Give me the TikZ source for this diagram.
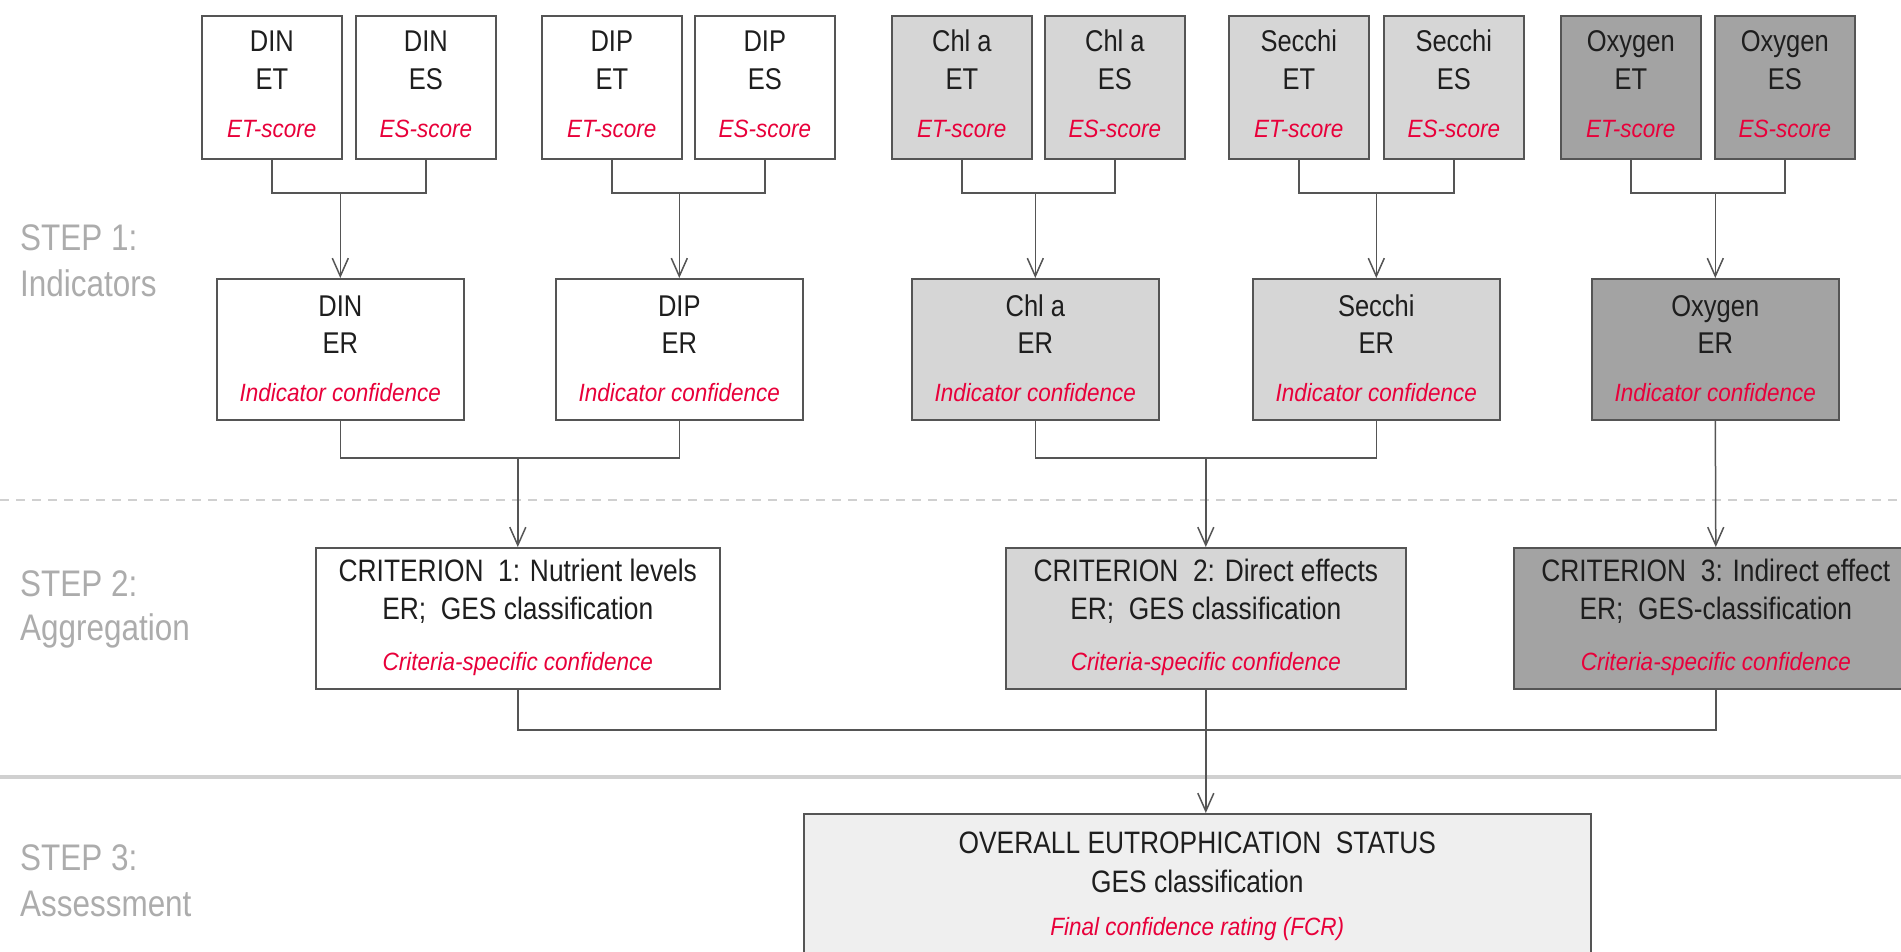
\documentclass[tikz,border=0pt]{standalone}
\usepackage{fontspec}
\setmainfont{Liberation Sans}[FakeStretch=0.85]
\newfontfamily\redf{Liberation Sans}[FakeStretch=0.9]
\usetikzlibrary{arrows.meta,calc}
\definecolor{linec}{HTML}{555555}
\definecolor{redt}{HTML}{E8003A}
\definecolor{stepc}{HTML}{ACACAC}
\definecolor{lgray}{HTML}{D6D6D6}
\definecolor{dgray}{HTML}{A3A3A3}
\definecolor{vlgray}{HTML}{EFEFEF}
\definecolor{txtc}{HTML}{1E1E1E}
\definecolor{sepc}{HTML}{D0D0D0}
\tikzset{
  box/.style={draw=linec, line width=1.6pt, inner sep=0pt, rectangle},
  maintxt/.style={inner sep=0pt, text=txtc, font=\fontsize{30}{36}\selectfont},
  crittxt/.style={inner sep=0pt, text=txtc, font=\fontsize{31}{37}\selectfont},
  redtxt/.style={inner sep=0pt, text=redt, font=\redf\itshape\fontsize{25}{30}\selectfont},
  steptxt/.style={inner sep=0pt, text=stepc, font=\fontsize{37}{44}\selectfont, anchor=base west},
  conn/.style={draw=linec, line width=1.5pt},
  arr/.style={conn, -{Straight Barb[length=18pt,width=16pt]}},
}
\newcommand{\topbox}[6]{%
  \node[box,fill=#3,minimum width=140pt,minimum height=143pt,anchor=north west] (#1) at (#2,15) {};
  \node[maintxt,anchor=base] (#1-a) at ([yshift=-36pt]#1.north) {#4};
  \node[maintxt,anchor=base] (#1-b) at ([yshift=-74pt]#1.north) {#5};
  \node[redtxt,anchor=base] (#1-c) at ([yshift=-122.5pt]#1.north) {#6};
}
\newcommand{\erbox}[5]{%
  \node[box,fill=#3,minimum width=247pt,minimum height=141pt,anchor=north west] (#1) at (#2,278) {};
  \node[maintxt,anchor=base] (#1-a) at ([yshift=-38pt]#1.north) {#4};
  \node[maintxt,anchor=base] (#1-b) at ([yshift=-75pt]#1.north) {#5};
  \node[redtxt,anchor=base] (#1-c) at ([yshift=-123pt]#1.north) {Indicator confidence};
}
\newcommand{\critbox}[6]{%
  \node[box,fill=#4,minimum width=#3pt,minimum height=141pt,anchor=north west] (#1) at (#2,547) {};
  \node[crittxt,anchor=base] (#1-a) at ([yshift=-34pt]#1.north) {#5};
  \node[crittxt,anchor=base] (#1-b) at ([yshift=-72pt]#1.north) {#6};
  \node[redtxt,anchor=base] (#1-c) at ([yshift=-123pt]#1.north) {Criteria-specific confidence};
}
\begin{document}
\begin{tikzpicture}[x=1pt,y=-1pt]
\useasboundingbox (0,0) rectangle (1901,951);
\clip (0,0) rectangle (1901,951);
\fill[white] (0,0) rectangle (1901,951);

% separators
\draw[sepc, line width=2pt, dash pattern=on 9pt off 7pt] (0,500) -- (1901,500);
\draw[sepc, line width=4pt] (0,777) -- (1901,777);

% step labels
\node[steptxt] (s1a) at (20,250) {STEP 1:};
\node[steptxt] (s1b) at (20,296) {Indicators};
\node[steptxt] (s2a) at (20,596) {STEP 2:};
\node[steptxt] (s2b) at (20,640) {Aggregation};
\node[steptxt] (s3a) at (20,870) {STEP 3:};
\node[steptxt] (s3b) at (20,916) {Assessment};

% top row
\topbox{dinet}{201}{white}{DIN}{ET}{ET-score}
\topbox{dines}{355}{white}{DIN}{ES}{ES-score}
\topbox{dipet}{541}{white}{DIP}{ET}{ET-score}
\topbox{dipes}{694}{white}{DIP}{ES}{ES-score}
\topbox{chlet}{891}{lgray}{Chl\hspace{7pt}a}{ET}{ET-score}
\topbox{chles}{1044}{lgray}{Chl\hspace{7pt}a}{ES}{ES-score}
\topbox{secet}{1228}{lgray}{Secchi}{ET}{ET-score}
\topbox{seces}{1383}{lgray}{Secchi}{ES}{ES-score}
\topbox{oxyet}{1560}{dgray}{Oxygen}{ET}{ET-score}
\topbox{oxyes}{1714}{dgray}{Oxygen}{ES}{ES-score}

% indicator row
\erbox{diner}{216}{white}{DIN}{ER}
\erbox{diper}{555}{white}{DIP}{ER}
\erbox{chler}{911}{lgray}{Chl\hspace{7pt}a}{ER}
\erbox{secer}{1252}{lgray}{Secchi}{ER}
\erbox{oxyer}{1591}{dgray}{Oxygen}{ER}

% criteria row
\critbox{crit1}{315}{404}{white}{CRITERION\ \ 1: Nutrient\ levels}{ER;\ \ GES classification}
\critbox{crit2}{1005}{400}{lgray}{CRITERION\ \ 2: Direct effects}{ER;\ \ GES classification}
\critbox{crit3}{1513}{404}{dgray}{CRITERION\ \ 3: Indirect\ effect}{ER;\ \ GES-classification}

% overall
\node[box,fill=vlgray,minimum width=787pt,minimum height=200pt,anchor=north west] (overall) at (803,813) {};
\node[crittxt,anchor=base] (overall-a) at ([yshift=-40pt]overall.north) {OVERALL EUTROPHICATION\ \ STATUS};
\node[crittxt,anchor=base] (overall-b) at ([yshift=-79pt]overall.north) {GES classification};
\node[redtxt,anchor=base] (overall-c) at ([yshift=-122pt]overall.north) {Final confidence rating (FCR)};

% levels
\coordinate (lv1) at (0,193);
\coordinate (lv2) at (0,458);
\coordinate (lv3) at (0,730);

% brackets step 1
\foreach \a/\b/\c in {dinet/dines/diner, dipet/dipes/diper, chlet/chles/chler, secet/seces/secer, oxyet/oxyes/oxyer}{
  \draw[conn] (\a.south) -- (\a.south |- lv1) -- (\b.south |- lv1) -- (\b.south);
  \draw[arr] (\c.north |- lv1) -- (\c.north);
}
% brackets step 2
\draw[conn] (diner.south) -- (diner.south |- lv2) -- (diper.south |- lv2) -- (diper.south);
\draw[arr] (crit1.north |- lv2) -- (crit1.north);
\draw[conn] (chler.south) -- (chler.south |- lv2) -- (secer.south |- lv2) -- (secer.south);
\draw[arr] (crit2.north |- lv2) -- (crit2.north);
\draw[arr] (oxyer.south) -- (crit3.north);
% bracket step 3
\draw[conn] (crit1.south) -- (crit1.south |- lv3) -- (crit3.south |- lv3) -- (crit3.south);
\draw[arr] (crit2.south) -- (crit2.south |- overall.north);
\end{tikzpicture}
\end{document}
